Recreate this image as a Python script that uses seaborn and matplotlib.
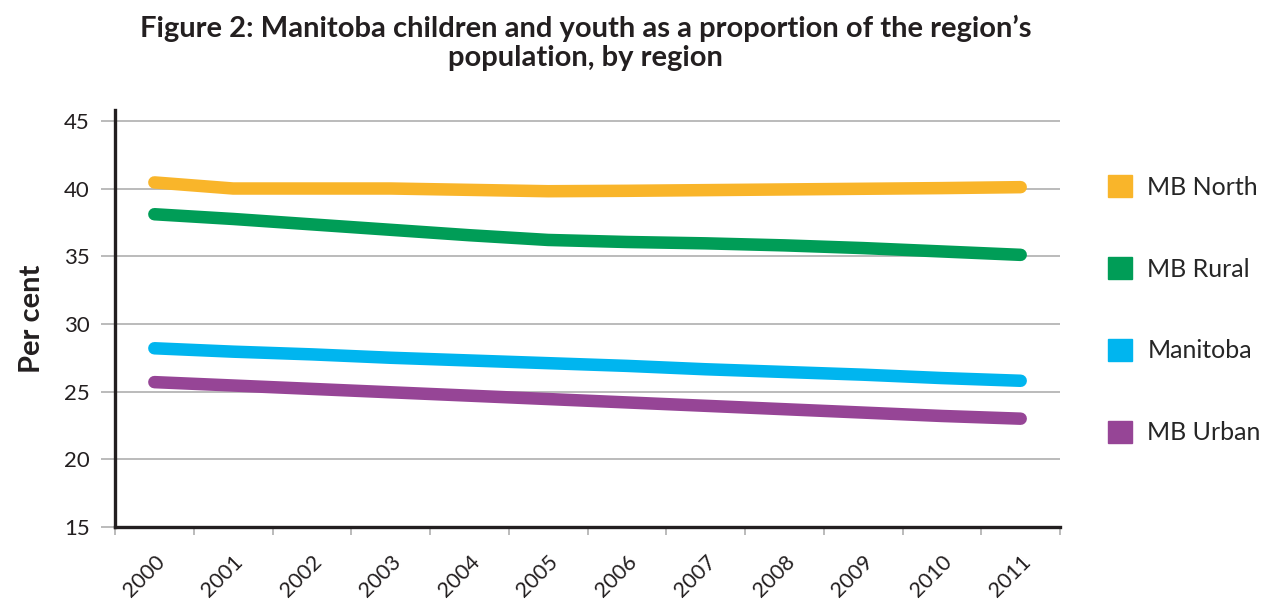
import matplotlib
matplotlib.use('Agg')
import matplotlib.pyplot as plt
import matplotlib.patches as mpatches
from matplotlib.ticker import MultipleLocator, FixedLocator
import seaborn as sns
import pandas as pd

# === DATA ===
years = [2000, 2001, 2002, 2003, 2004, 2005, 2006, 2007, 2008, 2009, 2010, 2011]
regions = ['MB North', 'MB Rural', 'Manitoba', 'MB Urban']
mb_north = [40.45, 40.0, 40.0, 40.0, 39.9, 39.8, 39.83, 39.88, 39.93, 39.98, 40.03, 40.1]
mb_rural = [38.1, 37.75, 37.35, 36.95, 36.55, 36.2, 36.05, 35.95, 35.8, 35.6, 35.35, 35.1]
manitoba = [28.2, 27.95, 27.75, 27.5, 27.3, 27.1, 26.9, 26.65, 26.45, 26.25, 26.0, 25.8]
mb_urban = [25.7, 25.45, 25.2, 24.95, 24.7, 24.45, 24.2, 23.95, 23.7, 23.45, 23.2, 23.0]
colors = ['#F9B52A', '#009D57', '#00B5EF', '#964596']

df = pd.concat([
    pd.DataFrame({'year': years, 'value': vals, 'region': name})
    for name, vals in zip(regions, [mb_north, mb_rural, manitoba, mb_urban])
])

# === STYLE ===
sns.set_style('white')
plt.rcParams['font.family'] = ['Lato', 'DejaVu Sans']

fig = plt.figure(figsize=(12.65, 5.99), dpi=100)
ax = fig.add_axes([0.0909, 0.1202, 0.838 - 0.0909, 0.8164 - 0.1202])

sns.lineplot(data=df, x='year', y='value', hue='region', hue_order=regions,
             palette=colors, linewidth=9, solid_capstyle='round',
             legend=False, ax=ax, zorder=3)

ax.set_xlim(1999.5, 2011.5)
ax.set_ylim(15, 45.8)
ax.yaxis.set_major_locator(FixedLocator([15, 20, 25, 30, 35, 40, 45]))
ax.grid(axis='y', color='#b5b5b5', linewidth=1.3)
ax.grid(axis='x', visible=False)

# categories sit between ticks
ax.set_xticks(years)
ax.set_xticklabels([str(y) for y in years], rotation=45, ha='right',
                   rotation_mode='anchor', fontsize=15.5, color='#231f20')
ax.xaxis.set_minor_locator(MultipleLocator(1, offset=0.5))
ax.tick_params(axis='x', which='major', length=0, pad=18)
ax.tick_params(axis='x', which='minor', length=6, width=1.3, color='#b5b5b5',
               bottom=True)
ax.tick_params(axis='y', length=10, width=1.3, color='#b5b5b5',
               labelsize=16, labelcolor='#231f20', left=True, pad=8)

for s in ['top', 'right']:
    ax.spines[s].set_visible(False)
for s in ['left', 'bottom']:
    ax.spines[s].set_color('#231f20')
    ax.spines[s].set_linewidth(2.4)

ax.set_xlabel('')
ax.set_ylabel('Per cent', fontsize=21, fontweight='bold', color='#231f20',
              labelpad=14)

handles = [mpatches.Patch(color=c, label=r) for r, c in zip(regions, colors)]
fig.legend(handles=handles, loc='upper left', bbox_to_anchor=(0.868, 0.724),
           frameon=False, fontsize=18, handlelength=0.97, handleheight=0.97,
           handletextpad=0.6, labelspacing=2.33, borderaxespad=0)

fig.suptitle('Figure 2: Manitoba children and youth as a proportion of the region\u2019s\npopulation, by region',
             x=0.463, y=0.975, fontsize=21, fontweight='bold', color='#231f20',
             linespacing=1.12)

fig.savefig('out.png', dpi=100, facecolor='white')
plt.close(fig)
